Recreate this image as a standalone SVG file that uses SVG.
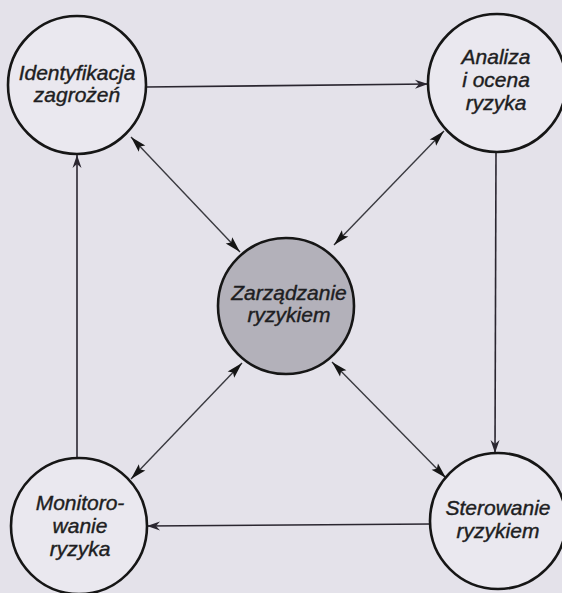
<svg xmlns="http://www.w3.org/2000/svg" width="562" height="593" viewBox="0 0 562 593">
  <style>
    .node { fill: #eae8ef; stroke: #161616; stroke-width: 2.6; }
    .hub { fill: #b3b1ba; stroke: #161616; stroke-width: 2.6; }
    .lbl { font-family: "Liberation Sans", Arial, sans-serif; font-style: italic; font-size: 21px; fill: #1e1e22; stroke: #1e1e22; stroke-width: 0.4; text-anchor: middle; }
    .cyc { stroke: #2a2630; stroke-width: 1.6; fill: none; marker-end: url(#barb); }
    .link { stroke: #3a3a40; stroke-width: 1.4; fill: none; marker-start: url(#headStart); marker-end: url(#head); }
  </style>
  <defs>
    <!-- barbed head used on the outer cycle -->
    <marker id="barb" markerUnits="userSpaceOnUse" markerWidth="16" markerHeight="12" viewBox="-1 -6 16 12" refX="13" refY="0" orient="auto">
      <path d="M0,-4.5 L13,0 L0,4.5 L4,0 Z" fill="#2a2630"/>
    </marker>
    <!-- solid heads for the spokes to the hub -->
    <marker id="head" markerUnits="userSpaceOnUse" markerWidth="18" markerHeight="12" viewBox="-1 -6 18 12" refX="16" refY="0" orient="auto">
      <path d="M0,-4.5 L16,0 L0,4.5 L3,0 Z" fill="#151515"/>
    </marker>
    <marker id="headStart" markerUnits="userSpaceOnUse" markerWidth="18" markerHeight="12" viewBox="-1 -6 18 12" refX="16" refY="0" orient="auto-start-reverse">
      <path d="M0,-4.5 L16,0 L0,4.5 L3,0 Z" fill="#151515"/>
    </marker>
  </defs>

  <rect width="562" height="593" fill="#e4e2ea"/>

  <g id="connectors">
    <!-- outer cycle -->
    <line class="cyc" x1="146" y1="87" x2="428" y2="84"/>
    <line class="cyc" x1="496" y1="152" x2="495" y2="453"/>
    <line class="cyc" x1="431" y1="524" x2="147" y2="526"/>
    <line class="cyc" x1="77" y1="458" x2="77" y2="155"/>
    <!-- spokes to the hub -->
    <line class="link" x1="131" y1="137" x2="240" y2="252"/>
    <line class="link" x1="444" y1="131" x2="334" y2="245"/>
    <line class="link" x1="131" y1="479" x2="242" y2="363"/>
    <line class="link" x1="446" y1="478" x2="332" y2="362"/>
  </g>

  <g id="identyfikacja">
    <circle class="node" cx="77" cy="85" r="69"/>
    <text class="lbl" x="77" y="80">Identyfikacja</text>
    <text class="lbl" x="77" y="102">zagrożeń</text>
  </g>

  <g id="analiza">
    <circle class="node" cx="497" cy="83" r="69"/>
    <text class="lbl" x="496" y="64">Analiza</text>
    <text class="lbl" x="496" y="87">i ocena</text>
    <text class="lbl" x="496" y="110">ryzyka</text>
  </g>

  <g id="zarzadzanie">
    <circle class="hub" cx="286" cy="306" r="68"/>
    <text class="lbl" x="289" y="300">Zarządzanie</text>
    <text class="lbl" x="289" y="322">ryzykiem</text>
  </g>

  <g id="monitorowanie">
    <circle class="node" cx="79" cy="526" r="68"/>
    <text class="lbl" x="80" y="510">Monitoro-</text>
    <text class="lbl" x="80" y="533">wanie</text>
    <text class="lbl" x="80" y="556">ryzyka</text>
  </g>

  <g id="sterowanie">
    <circle class="node" cx="498" cy="521" r="68"/>
    <text class="lbl" x="498" y="515">Sterowanie</text>
    <text class="lbl" x="498" y="538">ryzykiem</text>
  </g>
</svg>
